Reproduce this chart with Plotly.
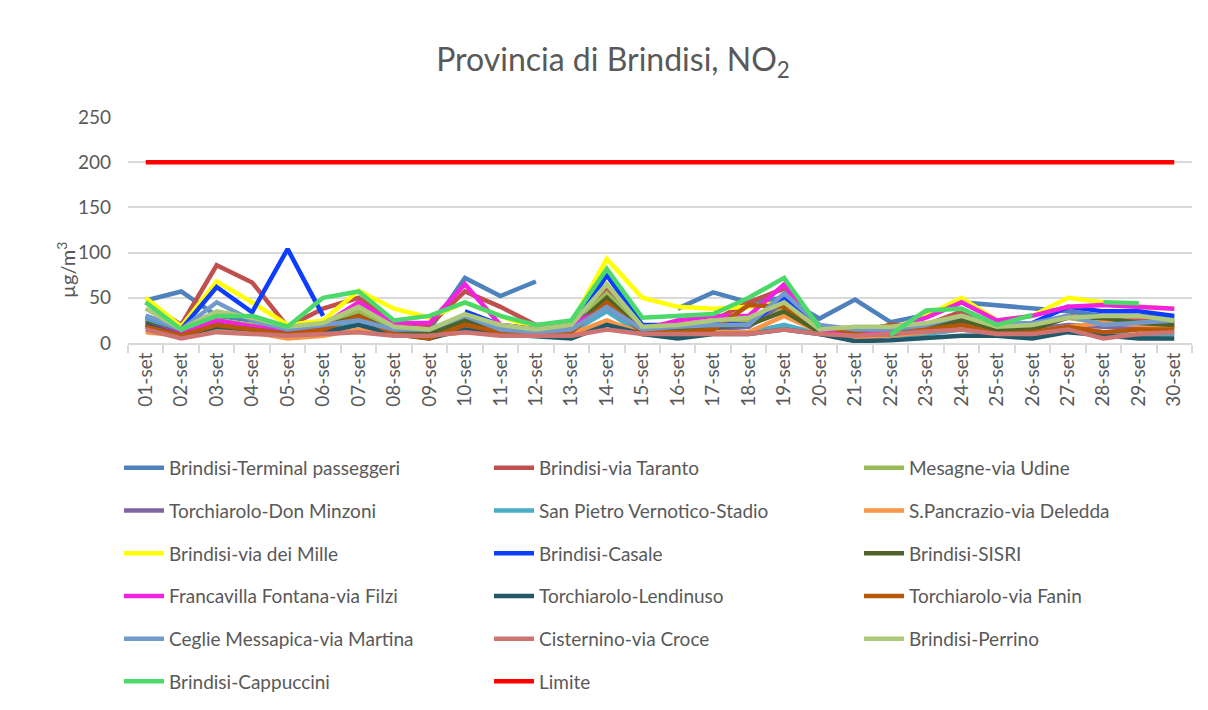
import plotly.graph_objects as go

days = [f"{d:02d}-set" for d in range(1, 31)]

terminal   = [47,57,30,25,15,20,25,15,15,72,52,68,None,None,None,38,56,45,50,27,48,23,31,45,42,38,35,30,30,28]
taranto    = [45,20,86,67,18,38,50,22,20,57,40,20,20,60,15,20,25,45,60,15,12,20,20,35,15,20,30,25,25,22]
mesagne    = [25,12,25,20,15,20,35,15,12,30,20,15,20,55,15,18,20,25,40,15,12,15,20,30,15,20,28,22,22,25]
donminzoni = [25,10,22,15,12,18,28,12,10,22,12,10,12,40,12,15,15,18,45,12,10,10,15,22,12,15,20,18,18,18]
sanpietro  = [28,10,20,15,10,15,22,10,10,18,12,10,12,35,10,8,12,12,20,10,5,8,10,15,10,8,15,12,8,10]
spancrazio = [12,8,15,12,5,8,15,10,8,12,10,8,10,25,10,10,12,12,30,12,5,8,12,20,10,12,18,22,20,18]
deimille   = [50,18,68,45,20,25,58,38,28,45,30,15,22,93,50,40,38,40,45,15,12,15,30,50,25,30,50,45,40,38]
casale     = [30,15,62,34,104,30,None,None,None,35,20,15,15,75,20,20,22,20,50,15,10,10,15,25,20,22,40,35,35,30]
sisri      = [22,10,22,18,12,18,30,12,10,25,15,12,15,50,12,15,18,20,35,12,10,12,18,25,15,15,28,28,22,20]
francav    = [20,10,25,18,12,20,45,22,22,65,20,15,20,40,15,25,30,30,65,15,10,15,28,45,25,30,40,42,40,38]
lendinuso  = [20,8,18,15,10,12,20,10,5,15,10,8,5,20,10,5,10,10,15,10,2,3,5,8,8,5,12,8,5,5]
fanin      = [18,8,20,15,10,15,30,10,5,20,12,10,12,45,12,12,15,42,40,18,12,20,15,20,10,12,18,12,15,15]
ceglie     = [30,15,45,25,15,20,25,15,15,30,15,12,15,40,15,18,20,20,55,20,15,15,20,30,20,22,30,20,22,25]
cisternino = [15,5,12,10,8,10,12,8,8,12,8,8,8,15,10,10,10,10,15,10,8,10,12,15,10,10,15,5,10,12]
perrino    = [38,15,35,28,18,22,40,18,15,32,20,15,20,65,18,20,25,28,45,15,18,18,22,30,18,20,28,30,30,25]
cappuccini = [45,15,30,30,18,50,57,25,30,45,30,20,25,82,28,30,32,50,72,17,None,9,36,38,20,31,None,45,44,None]
limite     = [200]*30

series = [
    ("Brindisi-Terminal passeggeri", terminal, "#4F81BD", "legend"),
    ("Brindisi-via Taranto", taranto, "#C0504D", "legend2"),
    ("Mesagne-via Udine", mesagne, "#9BBB59", "legend3"),
    ("Torchiarolo-Don Minzoni", donminzoni, "#8064A2", "legend"),
    ("San Pietro Vernotico-Stadio", sanpietro, "#4BACC6", "legend2"),
    ("S.Pancrazio-via Deledda", spancrazio, "#F79646", "legend3"),
    ("Brindisi-via dei Mille", deimille, "#FFFF00", "legend"),
    ("Brindisi-Casale", casale, "#0D3DFF", "legend2"),
    ("Brindisi-SISRI", sisri, "#4F6228", "legend3"),
    ("Francavilla Fontana-via Filzi", francav, "#F223DE", "legend"),
    ("Torchiarolo-Lendinuso", lendinuso, "#215968", "legend2"),
    ("Torchiarolo-via Fanin", fanin, "#B65708", "legend3"),
    ("Ceglie Messapica-via Martina", ceglie, "#729ACA", "legend"),
    ("Cisternino-via Croce", cisternino, "#CD7371", "legend2"),
    ("Brindisi-Perrino", perrino, "#AFC97A", "legend3"),
    ("Brindisi-Cappuccini", cappuccini, "#4BD96A", "legend"),
    ("Limite", limite, "#FF0000", "legend2"),
]

fig = go.Figure()
for i, (name, vals, col, lg) in enumerate(series):
    fig.add_trace(go.Scatter(
        x=days, y=vals, name=name, mode="lines",
        line=dict(color=col, width=4.5), connectgaps=False,
        legend=lg, legendgroup=f"g{i}",
    ))

font_c = "#595959"
ff = "Lato, 'Open Sans', sans-serif"
L, T, B = 120, 109, 375
W = 1064
R = 1208 - L - W
H = 710 - T - B

def px_x(p):
    return (p - L) / W

def px_y(p):
    return (710 - B - p) / H

leg_common = dict(
    orientation="v", xanchor="left", yanchor="top",
    font=dict(family=ff, size=19, color=font_c),
    bgcolor="rgba(0,0,0,0)", tracegroupgap=15, itemwidth=40,
)
fig.update_layout(
    width=1208, height=710,
    margin=dict(l=L, r=R, t=T, b=B),
    paper_bgcolor="white", plot_bgcolor="white",
    title=dict(text="Provincia di Brindisi, NO<sub>2</sub>", x=(613 - 8) / 1208, xanchor="center",
               y=1 - 52 / 710, yanchor="middle",
               font=dict(family=ff, size=32, color=font_c)),
    showlegend=True,
    legend=dict(**leg_common, x=px_x(111), y=px_y(441)),
    legend2=dict(**leg_common, x=px_x(481), y=px_y(441)),
    legend3=dict(**leg_common, x=px_x(851), y=px_y(441)),
    xaxis=dict(
        type="category", tickangle=-90, tickson="boundaries",
        ticks="outside", ticklen=8, tickcolor="#D9D9D9", tickwidth=1.5,
        showline=True, linecolor="#D9D9D9", linewidth=2,
        showgrid=False, range=[-0.5, 29.5],
        tickfont=dict(family=ff, size=19, color=font_c),
    ),
    yaxis=dict(
        range=[0, 250], dtick=50, showgrid=True, gridcolor="#D9D9D9", gridwidth=2,
        zeroline=False, showline=False, ticks="", ticklabelstandoff=16,
        tickfont=dict(family=ff, size=19, color=font_c),
    ),
    annotations=[dict(
        text="µg/m<sup>3</sup>", textangle=-90, showarrow=False,
        xref="paper", yref="paper", x=px_x(58), y=px_y(262),
        xanchor="center", yanchor="middle",
        font=dict(family=ff, size=20, color=font_c),
    )],
)

fig.write_html("out.html")
